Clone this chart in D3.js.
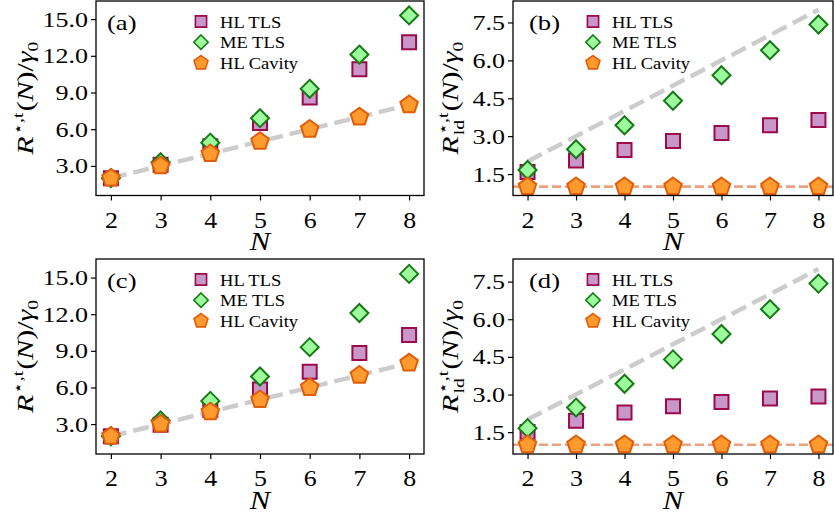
<!DOCTYPE html>
<html>
<head>
<meta charset="utf-8">
<script src="https://cdn.jsdelivr.net/npm/d3@7"></script>
<style>
  body { margin: 0; background: #fff; }
  svg { display: block; font-family: "Liberation Serif", "Times New Roman", serif; }
</style>
</head>
<body>
<svg id="chart" width="835" height="516"></svg>
<script>
// data
const nVals = [2, 3, 4, 5, 6, 7, 8];
const xTicks = [2, 3, 4, 5, 6, 7, 8];
const yTicksRate = [3, 6, 9, 12, 15];
const yTicksLd = [1.5, 3, 4.5, 6, 7.5];

const hlTlsA = [2.0, 3.1, 4.6, 6.5, 8.6, 10.9, 13.1];
const meTlsA = [2.0, 3.3, 4.9, 6.9, 9.3, 12.1, 15.3];
const hlCavA = [2, 3, 4, 5, 6, 7, 8];

const hlTlsB = [1.58, 2.04, 2.45, 2.81, 3.12, 3.43, 3.64];
const meTlsB = [1.66, 2.48, 3.43, 4.40, 5.41, 6.40, 7.42];
const hlCavB = [1, 1, 1, 1, 1, 1, 1];

const hlTlsC = [2.0, 2.95, 4.15, 5.84, 7.29, 8.82, 10.3];
const meTlsC = [2.0, 3.3, 4.9, 6.9, 9.3, 12.1, 15.3];
const hlCavC = [2, 3, 4, 5, 6, 7, 8];

const hlTlsD = [1.51, 1.95, 2.28, 2.53, 2.70, 2.84, 2.92];
const meTlsD = [1.66, 2.48, 3.43, 4.40, 5.41, 6.40, 7.42];
const hlCavD = [1, 1, 1, 1, 1, 1, 1];

const seriesNames = ["HL TLS", "ME TLS", "HL Cavity"];
const panelLabels = ["(a)", "(b)", "(c)", "(d)"];

const svg = d3.select("#chart");
const FONT = "Liberation Serif, Times New Roman, serif";

// marker shapes, size = "radius" in px
const squareType = { draw(ctx, r) { ctx.rect(-r, -r, 2 * r, 2 * r); } };
const diamondType = { draw(ctx, r) { ctx.moveTo(0, -r); ctx.lineTo(r, 0); ctx.lineTo(0, r); ctx.lineTo(-r, 0); ctx.closePath(); } };
const pentagonType = {
  draw(ctx, r) {
    for (let i = 0; i < 5; i++) {
      const a = -Math.PI / 2 + i * 2 * Math.PI / 5;
      i ? ctx.lineTo(r * Math.cos(a), r * Math.sin(a)) : ctx.moveTo(r * Math.cos(a), r * Math.sin(a));
    }
    ctx.closePath();
  }
};

const styles = [
  { type: squareType, r: 7, fill: "#c996c9", stroke: "#9c0a4a" },
  { type: diamondType, r: 9, fill: "#9cff9c", stroke: "#177a17" },
  { type: pentagonType, r: 9.2, fill: "#ff9a2e", stroke: "#e05e0a" }
];

const panels = [
  { x0: 96, x1: 424, y0: 1, y1: 195.5, yDom: [0.58, 16.48], ticks: yTicksRate, ld: false, data: [hlTlsA, meTlsA, hlCavA] },
  { x0: 513, x1: 833, y0: 1, y1: 195.5, yDom: [0.65, 8.35], ticks: yTicksLd, ld: true, data: [hlTlsB, meTlsB, hlCavB] },
  { x0: 96, x1: 424, y0: 259, y1: 454, yDom: [0.55, 16.52], ticks: yTicksRate, ld: false, data: [hlTlsC, meTlsC, hlCavC] },
  { x0: 513, x1: 833, y0: 259, y1: 454, yDom: [0.63, 8.4], ticks: yTicksLd, ld: true, data: [hlTlsD, meTlsD, hlCavD] }
];

// text stretched sideways, the figure's font is wider than Times
function wideText(g, x, y, str, size, sx, anchor) {
  return g.append("text")
    .attr("transform", `translate(${x},${y}) scale(${sx},1)`)
    .attr("font-family", FONT).attr("font-size", size)
    .attr("text-anchor", anchor || "start").text(str);
}

panels.forEach((p, pi) => {
  const x = d3.scaleLinear().domain([1.7, 8.3]).range([p.x0, p.x1]);
  const y = d3.scaleLinear().domain(p.yDom).range([p.y1, p.y0]);
  const g = svg.append("g");

  const clipId = "clip" + pi;
  svg.append("clipPath").attr("id", clipId).append("rect")
    .attr("x", p.x0).attr("y", p.y0).attr("width", p.x1 - p.x0).attr("height", p.y1 - p.y0);

  const plot = g.append("g").attr("clip-path", `url(#${clipId})`);

  // gray guide y = N
  plot.append("line")
    .attr("x1", x(nVals[0])).attr("y1", y(nVals[0]))
    .attr("x2", x(nVals[nVals.length - 1])).attr("y2", y(nVals[nVals.length - 1]))
    .attr("stroke", "#cccccc").attr("stroke-width", 4.5).attr("stroke-dasharray", "16,7");

  // orange guide at 1 for the ld panels
  if (p.ld) {
    plot.append("line")
      .attr("x1", p.x0).attr("x2", p.x1).attr("y1", y(1)).attr("y2", y(1))
      .attr("stroke", "#eba07f").attr("stroke-width", 2.6).attr("stroke-dasharray", "9,4");
  }

  p.data.forEach((vals, si) => {
    const st = styles[si];
    plot.selectAll(null).data(vals).enter().append("path")
      .attr("d", d3.symbol().type(st.type).size(st.r))
      .attr("transform", (d, i) => `translate(${x(nVals[i])},${y(d)})`)
      .attr("fill", st.fill).attr("stroke", st.stroke).attr("stroke-width", 2);
  });

  // axes
  const xAxis = g.append("g").attr("transform", `translate(0,${p.y1})`)
    .call(d3.axisBottom(x).tickValues(xTicks).tickSize(5).tickPadding(0).tickFormat(d3.format("d")));
  const yAxis = g.append("g").attr("transform", `translate(${p.x0},0)`)
    .call(d3.axisLeft(y).tickValues(p.ticks).tickSize(5).tickPadding(3).tickFormat(d3.format(".1f")));
  [xAxis, yAxis].forEach(a => {
    a.select(".domain").remove();
    a.selectAll("line").attr("stroke", "#000").attr("stroke-width", 1.2);
    a.selectAll("text").attr("fill", "#000").attr("font-family", FONT);
  });
  xAxis.selectAll("text").attr("font-size", 23.5).attr("y", 0).attr("dy", 32.5)
    .attr("transform", "scale(1.1,1)");
  const ysx = 1.27;
  yAxis.selectAll("text").attr("font-size", 20.5).attr("x", -8 / ysx).attr("dy", "0.34em")
    .attr("transform", `scale(${ysx},1)`);

  g.append("rect").attr("x", p.x0).attr("y", p.y0)
    .attr("width", p.x1 - p.x0).attr("height", p.y1 - p.y0)
    .attr("fill", "none").attr("stroke", "#000").attr("stroke-width", 1.3);

  // panel label
  wideText(g, p.x0 + (pi % 2 ? 16 : 11), p.y0 + 28.5, panelLabels[pi], 20.5, 1.3);

  // x label
  wideText(g, (p.x0 + p.x1) / 2, p.y1 + 54.5, "N", 24.5, 1.25, "middle").attr("font-style", "italic");

  // y label
  const cx = pi % 2 ? p.x0 - 55 : p.x0 - 63, cy = (p.y0 + p.y1) / 2;
  const lab = g.append("text").attr("transform", `translate(${cx},${cy}) rotate(-90) scale(1.3,1)`)
    .attr("text-anchor", "middle").attr("font-size", 23).attr("font-family", FONT);
  lab.append("tspan").attr("font-style", "italic").text("R");
  const sup = lab.append("tspan").attr("font-size", 15).attr("dx", 1).attr("dy", -10).text("\u22C6,t");
  if (p.ld) {
    const w = sup.node().getComputedTextLength();
    const sub = lab.append("tspan").attr("font-size", 15).attr("dx", -w).attr("dy", 16).text("ld");
    const w2 = sub.node().getComputedTextLength();
    lab.append("tspan").attr("dx", Math.max(0, w - w2) + 1).attr("dy", -6).text("(");
  } else {
    lab.append("tspan").attr("dx", 1).attr("dy", 10).text("(");
  }
  lab.append("tspan").attr("font-style", "italic").text("N");
  lab.append("tspan").text(")/");
  lab.append("tspan").attr("font-style", "italic").text("\u03B3");
  lab.append("tspan").attr("font-size", 15).attr("dy", 5).text("0");

  // legend
  const lx = p.x0 + (pi % 2 ? 80 : 105), ly = p.y0 + 20.5;
  seriesNames.forEach((name, si) => {
    const st = styles[si];
    const yy = ly + si * 20.7;
    g.append("path").attr("d", d3.symbol().type(st.type).size(st.r * 0.8))
      .attr("transform", `translate(${lx},${yy})`)
      .attr("fill", st.fill).attr("stroke", st.stroke).attr("stroke-width", 1.6);
    wideText(g, lx + 19, yy + 6, name, 17.5, 1.06);
  });
});
</script>
</body>
</html>
